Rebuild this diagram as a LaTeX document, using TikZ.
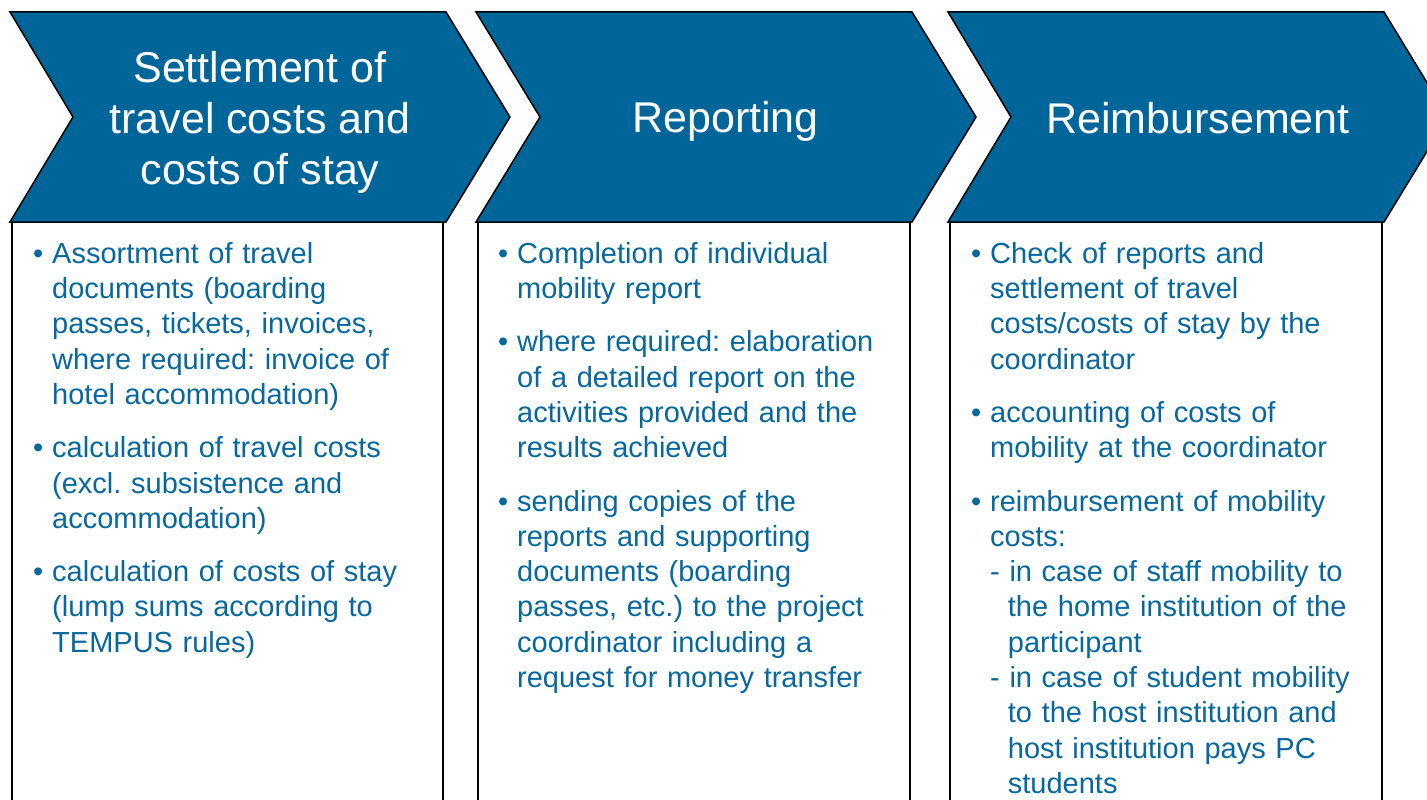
\documentclass[tikz,border=0pt]{standalone}
\usepackage{fontspec}
\setmainfont{Liberation Sans}
\definecolor{chev}{RGB}{0,102,153}
\definecolor{txt}{RGB}{6,104,156}
\newcommand{\bitem}{\leavevmode\llap{\textbullet\hspace{9pt}}}
\frenchspacing
\begin{document}
\begin{tikzpicture}[x=1pt,y=-1pt,
  chevron/.style={fill=chev,draw=black,line width=1.5pt,line join=miter},
  colbox/.style={draw=black,line width=2pt},
  title/.style={text=white,font=\fontsize{43}{51}\selectfont\frenchspacing,align=center,inner sep=0pt},
  body/.style={text=txt,font=\fontsize{29}{35.3}\selectfont\frenchspacing,align=left,text width=390pt,anchor=north west,inner sep=0pt}]
\useasboundingbox (0,0) rectangle (1427,800);
\clip (0,0) rectangle (1427,800);
% column boxes
\draw[colbox] (12,222) rectangle (443,815);
\draw[colbox] (478,222) rectangle (910,815);
\draw[colbox] (950,222) rectangle (1382,815);
% chevrons
\draw[chevron] (10,12) -- (446,12) -- (510,117) -- (446,222) -- (10,222) -- (73,117) -- cycle;
\draw[chevron] (476,12) -- (912,12) -- (976,117) -- (912,222) -- (476,222) -- (540,117) -- cycle;
\draw[chevron] (948,12) -- (1384,12) -- (1448,117) -- (1384,222) -- (948,222) -- (1011,117) -- cycle;
% titles
\node[title] (t1) at (260,122) {Settlement of\\travel costs and\\costs of stay};
\node[title] (t2) at (725.5,121) {Reporting};
\node[title] (t3) at (1198,118) {Reimbursement};
% bodies
\node[body] (b1) at (52,242) {\bitem Assortment of travel\\documents (boarding\\passes, tickets, invoices,\\where required: invoice of\\hotel accommodation)\\[18pt]
\bitem calculation of travel costs\\(excl. subsistence and\\accommodation)\\[18pt]
\bitem calculation of costs of stay\\(lump sums according to\\TEMPUS rules)};
\node[body] (b2) at (517,242) {\bitem Completion of individual\\mobility report\\[18pt]
\bitem where required: elaboration\\of a detailed report on the\\activities provided and the\\results achieved\\[18pt]
\bitem sending copies of the\\reports and supporting\\documents (boarding\\passes, etc.) to the project\\coordinator including a\\request for money transfer};
\node[body] (b3) at (990,242) {\bitem Check of reports and\\settlement of travel\\costs/costs of stay by the\\coordinator\\[18pt]
\bitem accounting of costs of\\mobility at the coordinator\\[18pt]
\bitem reimbursement of mobility\\costs:\\
- in case of staff mobility to\\\hspace*{17.7pt}the home institution of the\\\hspace*{17.7pt}participant\\
- in case of student mobility\\\hspace*{17.7pt}to the host institution and\\\hspace*{17.7pt}host institution pays PC\\\hspace*{17.7pt}students};
\end{tikzpicture}
\end{document}
